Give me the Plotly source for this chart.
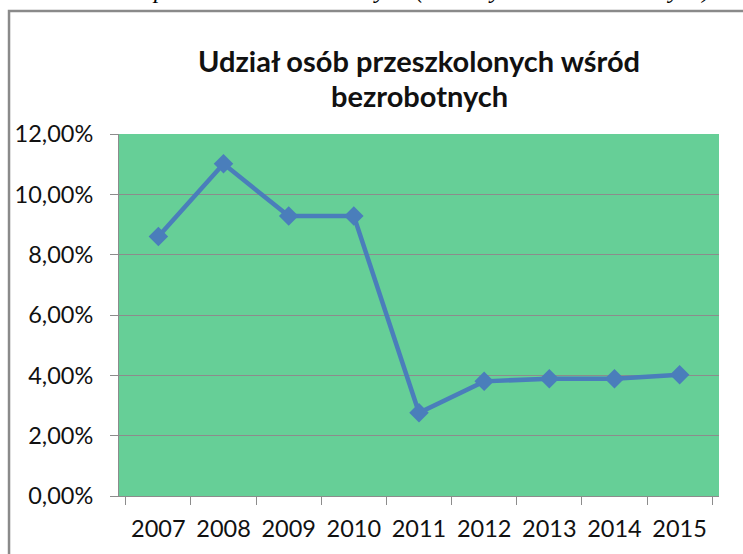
import plotly.graph_objects as go

years = ["2007", "2008", "2009", "2010", "2011", "2012", "2013", "2014", "2015"]
share = [0.0860, 0.1101, 0.0928, 0.0928, 0.0276, 0.0380, 0.0389, 0.0389, 0.0402]

title_line1 = "Udział osób przeszkolonych wśród"
title_line2 = "bezrobotnych"
top_text = "pozostawało bezrobotnymi (1 070 tys. osób bezrobotnych)."

GRID = "#8c8c8c"
BLUE = "#4a7ebb"
GREEN = "#66cf97"

fig = go.Figure()
fig.add_trace(go.Scatter(
    x=years, y=share, mode="lines+markers",
    line=dict(color=BLUE, width=4.5),
    marker=dict(symbol="diamond", size=15, color=BLUE),
    showlegend=False, hoverinfo="skip",
))

fig.update_layout(
    width=743, height=554,
    margin=dict(l=119, r=24, t=134, b=55),
    paper_bgcolor="white",
    plot_bgcolor=GREEN,
    separators=", ",
    font=dict(family="Lato", size=23.5, color="#111111"),
    xaxis=dict(
        type="category", showgrid=False, showline=True, linecolor=GRID, linewidth=1,
        ticks="outside", ticklen=8, tickcolor=GRID, tickson="boundaries",
        ticklabelstandoff=12, zeroline=False,
    ),
    yaxis=dict(
        range=[0, 0.12], dtick=0.02, tickformat=".2%",
        showgrid=True, gridcolor=GRID, gridwidth=1,
        showline=True, linecolor=GRID, linewidth=1,
        ticks="outside", ticklen=8, tickcolor=GRID,
        ticklabelstandoff=12, zeroline=False,
    ),
    shapes=[dict(
        type="rect", xref="paper", yref="paper",
        x0=-0.1833, x1=1.2, y0=-0.3, y1=1.3397,
        line=dict(color="#8a8a8a", width=2.5), fillcolor="rgba(0,0,0,0)", layer="below",
    )],
    annotations=[
        dict(text=f"<b>{title_line1}</b>", xref="paper", yref="paper", x=0.5, y=(499 - 60) / 365,
             xanchor="center", yanchor="middle", showarrow=False,
             font=dict(family="Lato", size=29, color="#111111")),
        dict(text=f"<b>{title_line2}</b>", xref="paper", yref="paper", x=0.5, y=(499 - 95) / 365,
             xanchor="center", yanchor="middle", showarrow=False,
             font=dict(family="Lato", size=29, color="#111111")),
        dict(text=f"<i>{top_text}</i>", xref="paper", yref="paper", x=(718 - 119) / 600,
             y=(499 - 4) / 365, xanchor="right", yanchor="bottom", showarrow=False,
             font=dict(family="Liberation Serif", size=24, color="#000000")),
    ],
)

fig.write_html("out.html", config={"displayModeBar": False},
               post_script="document.body.style.margin='0';")
